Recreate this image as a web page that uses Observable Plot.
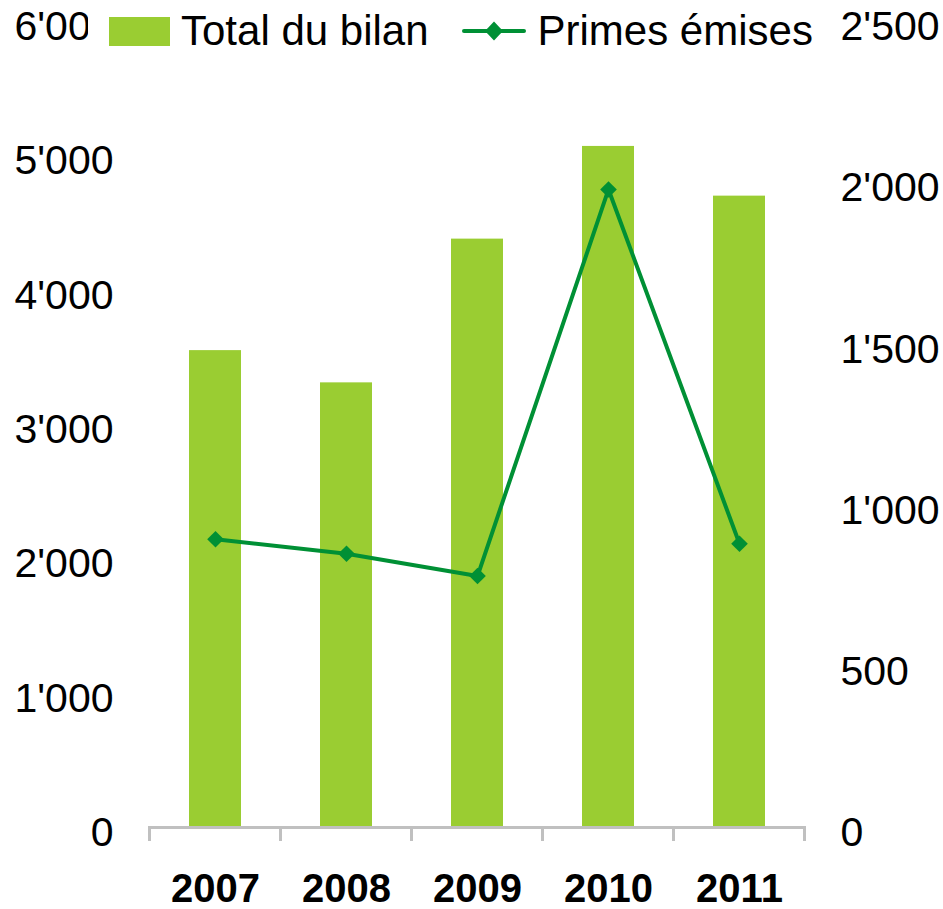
<!DOCTYPE html>
<html><head><meta charset="utf-8">
<script src="https://cdn.jsdelivr.net/npm/d3@7"></script>
<script src="https://cdn.jsdelivr.net/npm/@observablehq/plot@0.6"></script>
<style>
body{margin:0;background:#fff;font-family:"Liberation Sans",Arial,sans-serif;}
#wrap{position:relative;width:943px;height:909px;}
#legend{position:absolute;left:88px;top:6px;height:50px;background:#fff;display:flex;align-items:center;font-size:42px;color:#000;padding-right:20px;white-space:nowrap;}
</style></head><body>
<div id="wrap">
<div id="legend">
 <span style="display:inline-block;width:61px;height:29px;background:#9acd32;margin-left:21px;margin-right:11px"></span>
 <span>Total du bilan</span>
 <svg width="64" height="24" style="margin-left:33px;margin-right:12px;display:block">
  <line x1="2" y1="12" x2="62" y2="12" stroke="#009035" stroke-width="4" stroke-linecap="round"/>
  <path d="M32,2.5 L41,12 L32,21.5 L23,12 Z" fill="#009035"/>
 </svg>
 <span>Primes émises</span>
</div>
</div>
<script>
const years = ["2007", "2008", "2009", "2010", "2011"];
const totalBilan = [3550, 3310, 4380, 5070, 4700];
const primesEmises = [894, 849, 780, 1979, 880];
const leftTicks = [0, 1000, 2000, 3000, 4000, 5000, 6000];
const rightTicks = [0, 500, 1000, 1500, 2000, 2500];
const leftMax = 6000, rightMax = 2500;
const ratio = leftMax / rightMax;
const fmt = d => d3.format(",")(d).replace(/,/g, "'");

const data = years.map((y, i) => ({year: y, total: totalBilan[i], primes: primesEmises[i]}));

const plot = Plot.plot({
  width: 943, height: 909,
  marginTop: 21, marginBottom: 82, marginLeft: 148, marginRight: 137,
  style: {fontFamily: "'Liberation Sans', Arial, sans-serif", background: "#fff", color: "#000"},
  x: {type: "band", domain: years, paddingInner: 0.6, paddingOuter: 0.3},
  y: {domain: [0, leftMax]},
  marks: [
    Plot.barY(data, {x: "year", y: "total", fill: "#9acd32"}),
    Plot.ruleY([0], {stroke: "#c0c0c0", strokeWidth: 3}),
    Plot.line(data, {x: "year", y: d => d.primes * ratio, stroke: "#009035", strokeWidth: 4}),
    Plot.dot(data, {x: "year", y: d => d.primes * ratio, symbol: "diamond2", r: 7.5, fill: "#009035", stroke: "none"}),
    Plot.axisY(leftTicks, {anchor: "left", tickSize: 0, tickPadding: 35, tickFormat: fmt, fontSize: 41, dy: 5.5, label: null}),
    Plot.axisY(rightTicks.map(d => d * ratio), {anchor: "right", tickSize: 0, tickPadding: 34, tickFormat: d => fmt(Math.round(d / ratio)), fontSize: 41, dy: 5.5, label: null}),
    Plot.axisX({tickSize: 0, tickPadding: 46, fontSize: 40, fontWeight: "bold", label: null})
  ]
});

// category boundary ticks on the x axis, from the band scale
const xs = plot.scale("x");
const ys = plot.scale("y");
const step = xs.step ?? xs.bandwidth / (1 - 0.6);
const y0 = ys.apply(0);
const bounds = years.map(y => xs.apply(y) + xs.bandwidth / 2 - step / 2);
bounds.push(bounds[bounds.length - 1] + step);
const g = d3.select(plot).append("g");
g.selectAll("line").data(bounds).join("line")
  .attr("x1", d => d).attr("x2", d => d)
  .attr("y1", y0).attr("y2", y0 + 14)
  .attr("stroke", "#c0c0c0").attr("stroke-width", 3);

document.getElementById("wrap").prepend(plot);
</script>
</body></html>
